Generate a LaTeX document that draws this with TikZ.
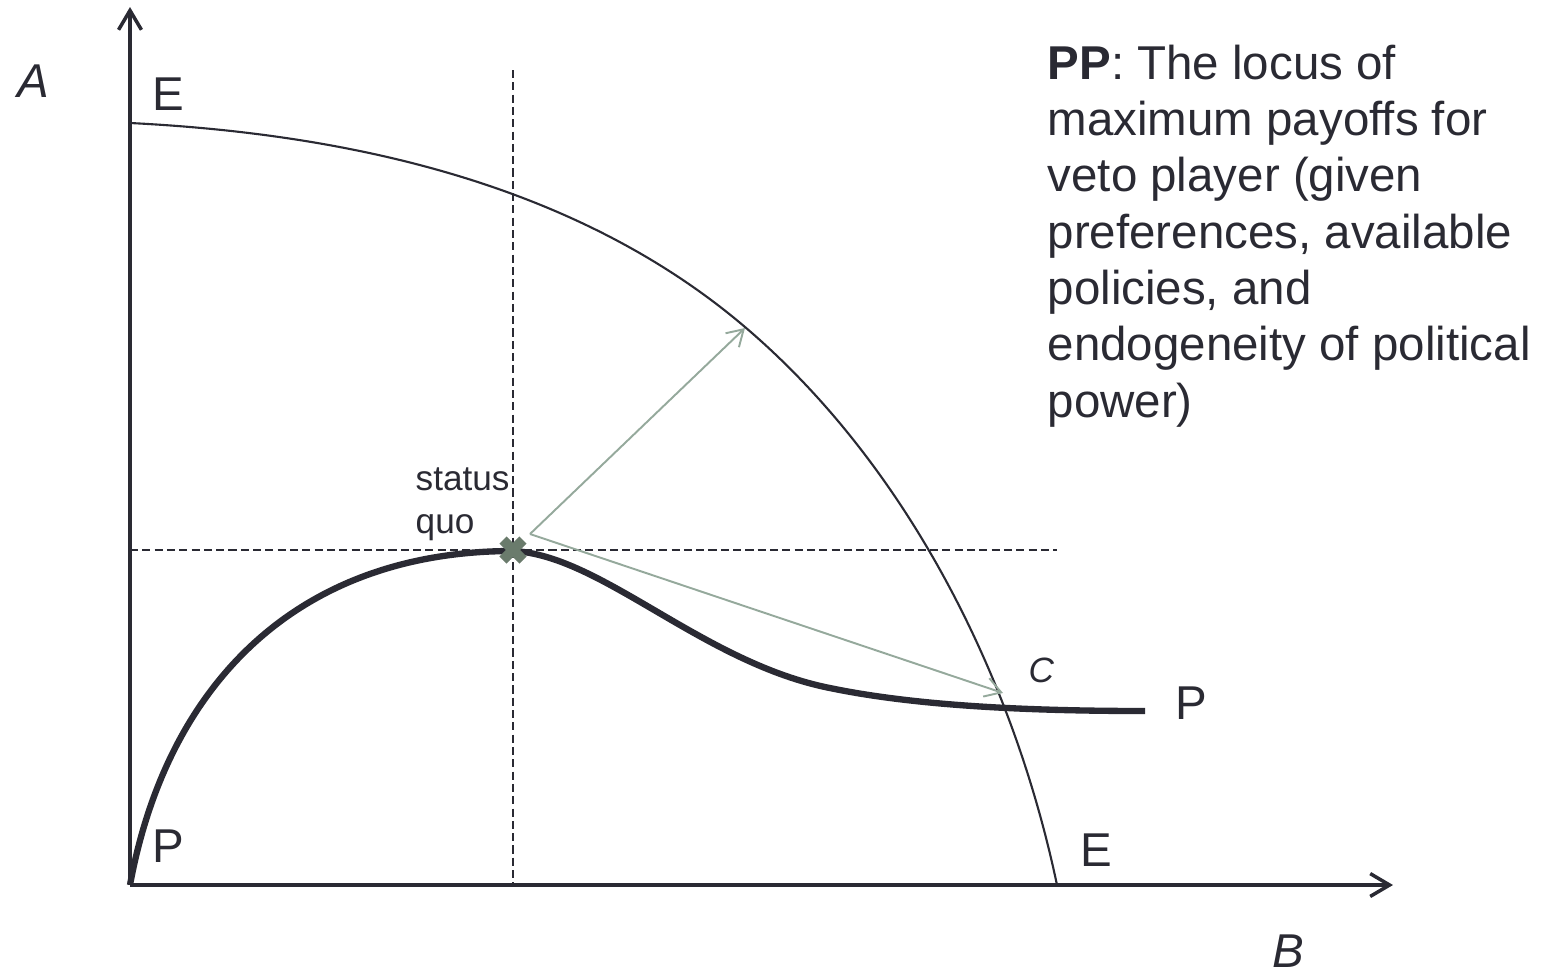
\documentclass[tikz,border=0pt]{standalone}
\usepackage{fontspec}
\setmainfont{Liberation Sans}
\usepackage{tikz}
\usetikzlibrary{arrows.meta}
\definecolor{inkdark}{HTML}{2A2A33}
\definecolor{movegray}{HTML}{95A99C}
\definecolor{sqgreen}{HTML}{6A7B6C}

\begin{document}
\begin{tikzpicture}[x=0.01cm, y=-0.01cm,
      axis/.style={draw=inkdark, line width=1pt, -{Straight Barb[length=5.5pt,width=6.5pt]}},
      frontier/.style={draw=inkdark, line width=0.6pt},
      locus/.style={draw=inkdark, line width=1.8pt},
      guide/.style={draw=inkdark, line width=0.55pt, dash pattern=on 2.3pt off 1.2pt},
      move/.style={draw=movegray, line width=0.55pt, -{Straight Barb[length=4.5pt,width=5.5pt]}},
      lbl/.style={text=inkdark, inner sep=0pt, font=\fontsize{13.5}{16}\selectfont},
      sqlbl/.style={text=inkdark, inner sep=0pt, font=\fontsize{10}{12}\selectfont}]
    \useasboundingbox (0,0) rectangle (1545,975);
    % axes
    \coordinate (O)    at (130,885);
    \coordinate (ytop) at (130,7);
    \coordinate (xend) at (1393,885);
    \draw[axis] (O) -- (ytop);
    \draw[axis] (O) -- (xend);
    \node[lbl, anchor=base] (alab) at (33,97)   {\textit{A}};
    \node[lbl, anchor=base] (blab) at (1288,967) {\textit{B}};
    % status quo guides
    \coordinate (sq)   at (513,550);
    \coordinate (vtop) at (513,70);
    \coordinate (vbot) at (513,885);
    \coordinate (hend) at (1057,550);
    \coordinate (hbeg) at (130,550);
    \draw[guide] (vtop) -- (vbot);
    \draw[guide] (hbeg) -- (hend);
    % EE frontier
    \coordinate (etopc) at (130,123);
    \coordinate (emid)  at (745,327);
    \coordinate (ebotc) at (1057,885);
    \draw[frontier] (etopc) .. controls (350,134) and (577,184) .. (emid)
      .. controls (907,465) and (1013,676) .. (ebotc);
    % PP locus
    \coordinate (pmid) at (825,687);
    \coordinate (pend) at (1145,711);
    \draw[locus] (O) .. controls (166,689) and (293,551) .. (513,551)
      .. controls (600,555) and (700,660) .. (pmid)
      .. controls (900,703) and (1000,711) .. (pend);
    \node[lbl, anchor=base west] (etop) at (152,110) {E};
    \node[lbl, anchor=base west] (ebot) at (1080,866) {E};
    \node[lbl, anchor=base west] (pbot) at (152,862) {P};
    \node[lbl, anchor=base west] (prt)  at (1175,719) {P};
    \node[sqlbl, anchor=base west] (clab) at (1028,682) {\textit{C}};
    % moves away from the status quo
    \coordinate (start) at (530,534);
    \coordinate (up)    at (745,328);
    \coordinate (cpt)   at (1003,693);
    \draw[move] (start) -- (up);
    \draw[move] (start) -- (cpt);
    \draw[sqgreen, line width=2.9pt] ([shift={(-10,-10)}]sq) -- ([shift={(10,10)}]sq)
      ([shift={(-10,10)}]sq) -- ([shift={(10,-10)}]sq);
    \node[sqlbl, anchor=base west, align=left] (sqlab) at (415,533) {status\\quo};
    % legend
    \node[lbl, anchor=base west, align=left] (legend) at (1047,417)
      {\textbf{PP}: The locus of\\maximum payoffs for\\veto player (given\\preferences, available\\policies, and\\endogeneity of political\\power)};
  \end{tikzpicture}
\end{document}
